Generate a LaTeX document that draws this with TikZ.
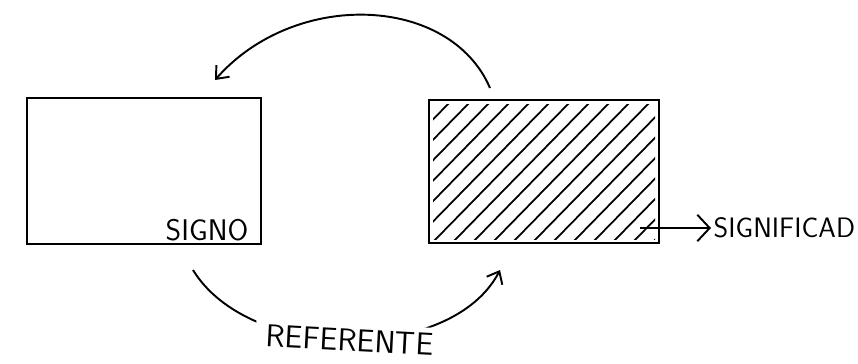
\documentclass[tikz,border=0pt]{standalone}
\usepackage{tikz}
\usetikzlibrary{arrows.meta}

\begin{document}
\begin{tikzpicture}[x=0.02cm, y=-0.02cm, line width=1.1pt,
  >={Straight Barb[length=6pt, width=10pt]},
  caja/.style={draw, inner sep=0pt, minimum width=4.68cm, minimum height=2.92cm},
  letra/.style={font=\sffamily\fontsize{17}{19}\selectfont, inner sep=1pt}]
  \useasboundingbox (0,0) rectangle (858,363);
  \node[caja] (signo) at (144,171) {};
  \node[caja, minimum width=4.6cm, minimum height=2.86cm] (significado) at (544,171.5) {};
  \begin{scope}
    \clip (433,104) rectangle (655,239);
    \foreach \x in {292,312,...,660}
      \draw[line width=1pt] (\x,243) -- ({\x+140},100);
  \end{scope}
  \node[letra, anchor=base east] (tsigno) at (251,240) {SIGNO};
  \coordinate (arcoini) at (490,88);
  \coordinate (arcofin) at (215,80);
  \draw[->] (arcoini) .. controls (450,-5) and (295,-11) .. (arcofin);
  \coordinate (refini) at (193,270);
  \coordinate (reffin) at (500,270);
  \draw[->] (refini) .. controls (250,363) and (452,363) .. (reffin)
    node[pos=0.5, letra, fill=white, rotate=-3, inner xsep=6pt, inner ysep=3pt,
         font=\sffamily\fontsize{18}{20}\selectfont] (tref) {REFERENTE};
  \coordinate (flechaini) at (640,228);
  \node[letra, anchor=west, font=\sffamily\fontsize{16}{18}\selectfont] (tsig) at (711,228) {SIGNIFICAD};
  \draw[->, >={Straight Barb[length=7pt, width=15pt]}] (flechaini) -- (tsig.west);
\end{tikzpicture}
\end{document}
